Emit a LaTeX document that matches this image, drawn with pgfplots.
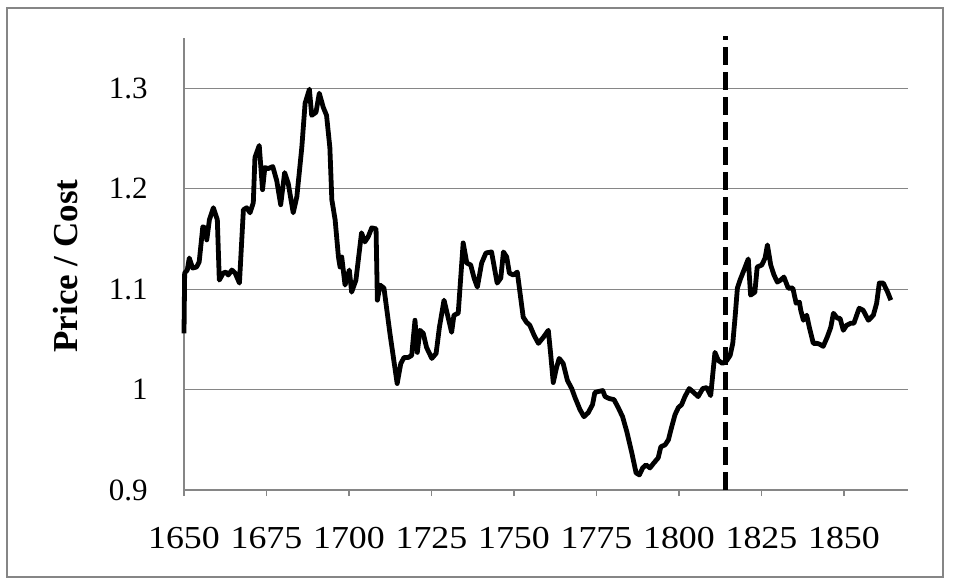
\documentclass[border=0pt]{standalone}
\usepackage{pgfplots}
\pgfplotsset{compat=1.18}
\usepackage{fontspec}
\setmainfont{Liberation Serif}
\definecolor{gridgray}{RGB}{134,134,134}
\pgfplotstableread{
year value
1650.0 1.056
1650.2 1.116
1651.0 1.119
1651.6 1.131
1652.6 1.121
1653.8 1.122
1654.6 1.127
1655.7 1.162
1656.4 1.161
1656.9 1.149
1657.7 1.169
1658.9 1.181
1660.1 1.169
1660.7 1.109
1661.9 1.116
1662.7 1.117
1663.4 1.114
1664.5 1.119
1665.5 1.116
1666.8 1.106
1668.0 1.179
1669.0 1.181
1670.0 1.176
1671.0 1.186
1671.5 1.231
1672.8 1.243
1673.8 1.199
1674.5 1.221
1675.5 1.220
1676.9 1.222
1678.1 1.208
1679.3 1.184
1680.5 1.216
1681.6 1.205
1683.1 1.176
1684.2 1.192
1685.7 1.241
1686.7 1.285
1688.0 1.299
1688.7 1.273
1690.0 1.276
1691.0 1.295
1692.2 1.281
1693.2 1.273
1694.2 1.241
1694.8 1.189
1695.8 1.169
1696.8 1.132
1697.3 1.122
1697.8 1.132
1698.8 1.104
1700.1 1.119
1700.8 1.097
1702.1 1.109
1703.8 1.156
1704.8 1.147
1705.8 1.152
1706.9 1.161
1708.2 1.160
1708.6 1.089
1709.4 1.104
1710.6 1.101
1712.4 1.056
1714.6 1.006
1715.7 1.026
1716.7 1.032
1718.0 1.032
1719.0 1.034
1720.0 1.069
1720.7 1.037
1721.5 1.059
1722.5 1.056
1723.5 1.042
1725.1 1.031
1726.4 1.036
1727.4 1.062
1728.8 1.089
1730.1 1.071
1731.1 1.057
1731.8 1.074
1733.1 1.076
1734.6 1.146
1735.7 1.126
1736.9 1.124
1737.9 1.111
1738.9 1.102
1740.2 1.126
1741.5 1.136
1743.2 1.137
1744.9 1.106
1746.0 1.111
1746.8 1.137
1747.8 1.132
1748.6 1.116
1749.8 1.114
1751.0 1.117
1752.0 1.092
1752.8 1.072
1753.8 1.067
1754.8 1.064
1756.1 1.054
1757.4 1.046
1758.9 1.052
1760.4 1.059
1761.1 1.036
1761.9 1.007
1762.9 1.022
1763.7 1.031
1764.9 1.026
1766.2 1.009
1767.5 1.001
1768.5 0.992
1770.0 0.980
1771.2 0.973
1772.5 0.977
1773.8 0.985
1774.5 0.997
1775.5 0.998
1776.9 0.999
1777.6 0.993
1778.9 0.991
1780.3 0.990
1781.6 0.982
1782.9 0.973
1784.2 0.958
1785.7 0.937
1787.0 0.917
1788.0 0.915
1789.0 0.922
1790.0 0.925
1791.2 0.922
1792.4 0.927
1793.7 0.932
1794.5 0.943
1795.8 0.945
1796.8 0.950
1797.8 0.963
1798.8 0.975
1799.8 0.982
1800.8 0.985
1801.8 0.993
1803.1 1.001
1804.5 0.997
1805.8 0.993
1807.2 1.001
1808.4 1.002
1809.6 0.994
1810.9 1.037
1811.9 1.029
1813.2 1.026
1814.5 1.029
1815.5 1.034
1816.3 1.046
1817.0 1.072
1817.7 1.101
1818.5 1.109
1819.7 1.119
1821.0 1.130
1821.7 1.094
1823.0 1.097
1823.7 1.122
1825.1 1.124
1826.1 1.131
1826.8 1.144
1827.8 1.124
1828.8 1.114
1829.8 1.107
1830.8 1.109
1831.8 1.112
1833.1 1.101
1834.5 1.101
1835.5 1.086
1836.5 1.087
1836.9 1.079
1837.7 1.069
1838.7 1.074
1839.5 1.062
1840.7 1.046
1841.9 1.046
1842.7 1.045
1843.7 1.043
1844.9 1.052
1846.0 1.062
1846.8 1.076
1848.0 1.071
1848.8 1.071
1849.8 1.059
1850.8 1.064
1852.0 1.066
1853.0 1.066
1854.6 1.081
1855.8 1.079
1857.4 1.069
1858.9 1.074
1859.9 1.086
1860.7 1.106
1861.9 1.106
1863.1 1.098
1864.2 1.089
}\pricecost
\begin{document}
\begin{tikzpicture}
% page bounds (954 x 579 px at 0.5pt per px)
\path[use as bounding box] (-92pt,-44.5pt) rectangle (385pt,245pt);
\draw[gridgray, line width=0.6pt] (-88.5pt,-43.5pt) rectangle (379.5pt,241pt);
\begin{axis}[
  at={(0pt,0pt)}, anchor=origin,
  scale only axis,
  width=362pt, height=226pt,
  xmin=1650, xmax=1869.4,
  ymin=0.9, ymax=1.35,
  xtick={1650,1675,1700,1725,1750,1775,1800,1825,1850},
  ytick={0.9,1,1.1,1.2,1.3},
  yticklabels={0.9,1,1.1,1.2,1.3},
  /pgf/number format/assume math mode=true,
  xticklabel style={/pgf/number format/1000 sep={}, anchor=base, inner sep=0pt, yshift=-26pt, font=\fontsize{16}{18}\selectfont, xscale=1.12},
  yticklabel style={anchor=east, inner sep=0pt, xshift=-15pt, font=\fontsize{15.5}{18}\selectfont},
  tick label style={color=black},
  ymajorgrids,
  grid style={gridgray, line width=0.6pt},
  axis x line*=bottom,
  axis y line*=left,
  axis line style={gridgray, line width=0.6pt, -},
  xtick style={gridgray, line width=0.6pt},
  ytick style={draw=none},
  tick align=outside,
  major tick length=3pt,
  clip=false,
]
\addplot[black, line width=2.4pt, line join=round] table[x=year, y=value] {\pricecost};
\addplot[black, line width=2.5pt, dash pattern=on 9pt off 3.5pt] coordinates {(1814,0.9) (1814,1.352)};
\end{axis}
\node[rotate=90, font=\fontsize{17.5}{20}\selectfont\bfseries] at (-59pt,112pt) {Price / Cost};
\end{tikzpicture}
\end{document}
